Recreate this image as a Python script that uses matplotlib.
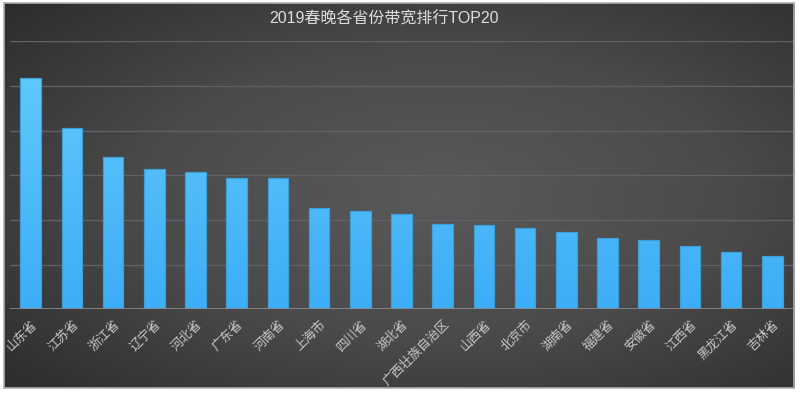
import numpy as np
import matplotlib
matplotlib.use("Agg")
import matplotlib.pyplot as plt
from matplotlib.colors import LinearSegmentedColormap
from matplotlib.patches import Rectangle

plt.rcParams['font.family'] = ['Noto Sans CJK SC', 'DejaVu Sans']

title = "2019春晚各省份带宽排行TOP20"
provinces = ["山东省", "江苏省", "浙江省", "辽宁省", "河北省", "广东省", "河南省",
             "上海市", "四川省", "湖北省", "广西壮族自治区", "山西省", "北京市",
             "湖南省", "福建省", "安徽省", "江西省", "黑龙江省", "吉林省"]
values = [5.18, 4.05, 3.40, 3.15, 3.07, 2.93, 2.93, 2.26, 2.20, 2.13,
          1.915, 1.89, 1.81, 1.74, 1.59, 1.55, 1.41, 1.275, 1.19]
y_max = 6
grid_ticks = [1, 2, 3, 4, 5, 6]

W, H = 800, 393
fig = plt.figure(figsize=(W / 100, H / 100), dpi=100)
fig.patch.set_facecolor("white")

# background panel with radial gradient
bg = fig.add_axes([3.5 / W, 1 - 388 / H, (794 - 3.5) / W, (388 - 3) / H])
yy, xx = np.mgrid[0:1:200j, 0:1:400j]
d = np.sqrt(((xx - 0.55) / 0.75) ** 2 + ((yy - 0.5) / 0.75) ** 2)
d = np.clip(d, 0, 1)
cmap_bg = LinearSegmentedColormap.from_list("bg", ["#5a5a5a", "#4a4a4a", "#2c2c2c"])
bg.imshow(d, cmap=cmap_bg, aspect="auto", extent=[0, 1, 0, 1], vmin=0, vmax=1)
bg.set_xticks([]); bg.set_yticks([])
for s in bg.spines.values():
    s.set_color("#b0b0b0")
    s.set_linewidth(1.2)
bg.set_zorder(0)

ax = fig.add_axes([10 / W, 1 - 309.3 / H, (793 - 10) / W, (309.3 - 41.3) / H])
ax.set_zorder(1)
ax.patch.set_alpha(0)
x = np.arange(len(provinces))
bars = ax.bar(x, values, width=0.5, color="#55c2fa", edgecolor="#3d9fd8",
              linewidth=0.8, zorder=3)
ax.set_xlim(-0.5, len(provinces) - 0.5)
ax.set_ylim(0, y_max)

grad = np.linspace(0, 1, 256).reshape(-1, 1)
cmap_bar = LinearSegmentedColormap.from_list("bar", ["#3cadf7", "#66ccfb"])
for b in bars:
    bx, by = b.get_x(), b.get_y()
    bw, bh = b.get_width(), b.get_height()
    im = ax.imshow(grad, cmap=cmap_bar, origin="lower", aspect="auto",
                   extent=[bx, bx + bw, 0, y_max], zorder=3.5)
    im.set_clip_path(b)
    ax.add_patch(Rectangle((bx, by), bw, bh, fill=False, edgecolor="#3d9fd8",
                           linewidth=0.8, zorder=4))

for g in grid_ticks:
    ax.axhline(g, color="#60606a", linewidth=1.0, zorder=2)
ax.axhline(0, color="#8a8a90", linewidth=1.2, zorder=5)

ax.set_yticks([])
ax.set_xticks(x)
ax.set_xticklabels(provinces, rotation=45, ha="right", va="top",
                   rotation_mode="anchor", color="#c8c8c8", fontsize=9)
ax.tick_params(axis="x", length=0, pad=6)
for s in ax.spines.values():
    s.set_visible(False)

fig.text(384 / W, 1 - 19 / H, title, color="#dddddd", fontsize=11.5,
         ha="center", va="center",
         family=['Liberation Sans', 'Noto Sans CJK SC'])

fig.savefig("out.png", dpi=100, facecolor=fig.get_facecolor())
